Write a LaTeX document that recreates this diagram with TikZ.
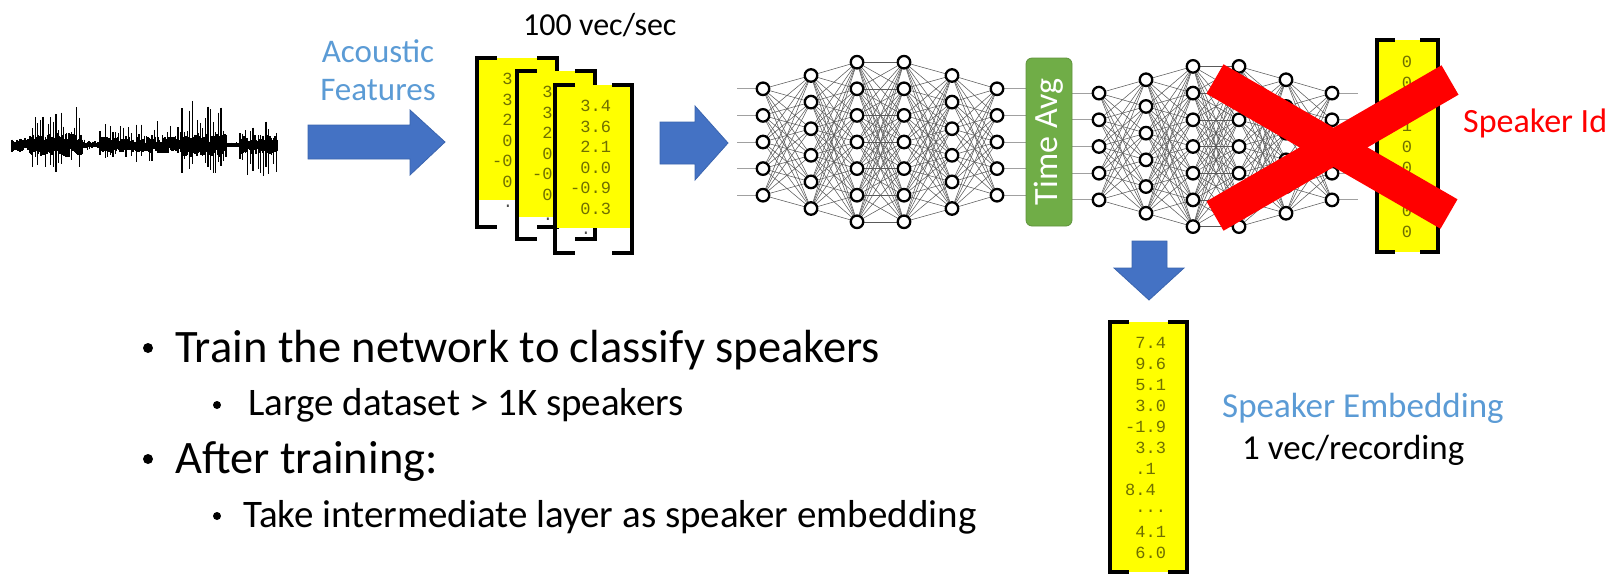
\documentclass[tikz,border=0pt]{standalone}
\usepackage{fontspec}
\setmainfont{Carlito}
\newfontfamily\monofam{Liberation Mono}
\usetikzlibrary{backgrounds}
\definecolor{arrowblue}{HTML}{4472C4}
\definecolor{arrowedge}{HTML}{3A64AE}
\definecolor{lightblue}{HTML}{5B9BD5}
\definecolor{boxgreen}{HTML}{70AD47}
\definecolor{numolive}{HTML}{6F6F00}
\definecolor{vecyellow}{HTML}{FFFF00}
\definecolor{xred}{HTML}{FF0000}
\definecolor{netgray}{HTML}{5A5A5A}
\definecolor{stubgray}{HTML}{A0A0A0}
\newcommand\mydots{...}
\begin{document}
\begin{tikzpicture}[x=1pt,y=-1pt,
  neuron/.style={circle, draw=black, fill=white, line width=2.3pt, minimum size=12.5pt, inner sep=0pt},
  link/.style={draw=netgray, line width=0.55pt},
  stub/.style={draw=stubgray, line width=1pt},
  num/.style={font=\monofam\fontsize{17}{20}\selectfont, text=numolive, inner sep=0pt, anchor=west},
  numc/.style={font=\monofam\fontsize{17}{20}\selectfont, text=numolive, inner sep=0pt},
  bracketline/.style={draw=black, line width=4pt, line join=miter},
  blockarrow/.style={fill=arrowblue, draw=arrowedge, line width=0.8pt},
  txt/.style={inner sep=0pt, anchor=base west},
  xbar/.style={draw=xred, line width=34pt, line cap=butt}
]
\useasboundingbox (0,0) rectangle (1623,574);

% ---------- waveform ----------
\pgfmathsetseed{11}
\foreach \xa/\xb/\up/\dn/\core in {12/30/7/7/6, 30/82/38/28/10, 82/100/8/6/3, 100/182/24/17/7, 182/226/48/30/10, 226/240/3/3/1.5, 240/277/28/32/8}{
  \pgfmathsetmacro\xs{\xa+1.0}
  \foreach \x in {\xa,\xs,...,\xb}{
    \pgfmathsetmacro\u{\core*(0.3+0.9*rnd)}
    \pgfmathsetmacro\d{\core*(0.3+0.9*rnd)}
    \draw[line width=1.1pt] (\x,{145-\u}) -- (\x,{145+\d});
  }
  \pgfmathsetmacro\xt{\xa+2.6}
  \foreach \x in {\xa,\xt,...,\xb}{
    \pgfmathsetmacro\u{\up*(0.2+0.8*rnd^1.3)}
    \pgfmathsetmacro\d{\dn*(0.2+0.8*rnd^1.3)}
    \draw[line width=1.2pt] (\x,{145-\u}) -- (\x,{145+\d});
  }
}
\fill (12,143) rectangle (277,147);

% ---------- labels top-left ----------
\node[font=\fontsize{33}{38}\selectfont, text=lightblue, align=center, inner sep=0pt] (acf) at (378,70) {Acoustic\\Features};
\node[txt, font=\fontsize{32}{38}\selectfont] (rate) at (523,35) {100 vec/sec};

% ---------- arrow 1 ----------
\path[blockarrow] (308,125) -- (410,125) -- (410,110) -- (445,142) -- (410,175) -- (410,159) -- (308,159) -- cycle;

% ---------- feature matrices ----------
\foreach \m/\L/\T/\R/\B/\Yb in {1/477/58/557/227/200, 2/517/71/595/239/217, 3/555/85/632/253/228}{
  \fill[vecyellow] (\L,\T) rectangle (\R,\Yb);
  \foreach \t [count=\i] in {{\hphantom{-}3.4},{\hphantom{-}3.6},{\hphantom{-}2.1},{\hphantom{-}0.0},{-0.9},{\hphantom{-}0.3}}{
    \node[num] (f\m-\i) at ({\L+15},{\T+21+20.5*(\i-1)}) {\t};
  }
  \node[numc, text=black!70] (fdot\m) at ({\L+31},{\T+148}) {.};
  \draw[bracketline] ({\L+20},\T) -- (\L,\T) -- (\L,\B) -- ({\L+20},\B);
  \draw[bracketline] ({\R-20},\T) -- (\R,\T) -- (\R,\B) -- ({\R-20},\B);
}

% ---------- arrow 2 ----------
\path[blockarrow] (660,122) -- (695,122) -- (695,106) -- (728,143) -- (695,180) -- (695,164) -- (660,164) -- cycle;

% ---------- network 1 ----------
\foreach \l/\x/\n in {1/763/5,2/811/6,3/857/7,4/904/7,5/952/6,6/997/5}{
  \foreach \i in {1,...,\n}{
    \node[neuron] (a\l-\i) at (\x,{142+(\i-(\n+1)/2)*26.6}) {};
  }
}
\foreach \i in {1,...,5}{
  \coordinate (ain-\i) at (737,{142+(\i-3)*26.6});
  \coordinate (aout-\i) at (1026,{142+(\i-3)*26.6});
}
% ---------- network 2 ----------
\foreach \l/\x/\n in {1/1099/5,2/1146/6,3/1193/7,4/1239/7,5/1286/6,6/1332/5}{
  \foreach \i in {1,...,\n}{
    \node[neuron] (b\l-\i) at (\x,{146.5+(\i-(\n+1)/2)*26.7}) {};
  }
}
\foreach \i in {1,...,5}{
  \coordinate (bin-\i) at (1072,{146.5+(\i-3)*26.7});
  \coordinate (bout-\i) at (1358,{146.5+(\i-3)*26.7});
}
\begin{scope}[on background layer]
  \foreach \l/\n/\m in {1/5/6,2/6/7,3/7/7,4/7/6,5/6/5}{
    \pgfmathtruncatemacro\k{\l+1}
    \foreach \i in {1,...,\n}{
      \foreach \j in {1,...,\m}{
        \draw[link] (a\l-\i) -- (a\k-\j);
        \draw[link] (b\l-\i) -- (b\k-\j);
      }
    }
  }
  \foreach \i in {1,...,5}{
    \draw[stub] (ain-\i) -- (a1-\i);
    \draw[stub] (a6-\i) -- (aout-\i);
    \draw[stub] (bin-\i) -- (b1-\i);
    \draw[stub] (b6-\i) -- (bout-\i);
  }
\end{scope}

% ---------- time average ----------
\node[rotate=90, fill=boxgreen, draw=boxgreen!85!black, line width=0.8pt, rounded corners=6pt,
      minimum width=168pt, minimum height=46pt, inner sep=0pt, text=white,
      font=\fontsize{34}{40}\selectfont] (tavg) at (1049,142) {Time Avg};

% ---------- speaker id vector ----------
\fill[vecyellow] (1377,40) rectangle (1438,252);
\foreach \t [count=\i] in {0,0,0,1,0,0,0,0,0}{
  \node[numc] (sid-\i) at (1407,{61.7+21.25*(\i-1)}) {\t};
}
\draw[bracketline] (1395,40) -- (1377,40) -- (1377,252) -- (1395,252);
\draw[bracketline] (1420,40) -- (1438,40) -- (1438,252) -- (1420,252);

% ---------- red X ----------
\coordinate (xa1) at (1215,79);
\coordinate (xa2) at (1449,214);
\coordinate (xb1) at (1215,216);
\coordinate (xb2) at (1450,80);
\draw[xbar] (xa1) -- (xa2);
\draw[xbar] (xb1) -- (xb2);
\node[txt, text=xred, font=\fontsize{34}{40}\selectfont] (spkid) at (1463,132) {Speaker Id};

% ---------- down arrow ----------
\path[blockarrow] (1132,241) -- (1167,241) -- (1167,268) -- (1184,268) -- (1149,300) -- (1114,268) -- (1132,268) -- cycle;

% ---------- embedding vector ----------
\fill[vecyellow] (1110,322) rectangle (1187,572);
\foreach \t [count=\i] in {{\hphantom{-}7.4},{\hphantom{-}9.6},{\hphantom{-}5.1},{\hphantom{-}3.0},{-1.9},{\hphantom{-}3.3},{\hphantom{-}.1},{8.4},{\hphantom{-}\mydots},{\hphantom{-}4.1},{\hphantom{-}6.0}}{
  \node[num] (emb-\i) at (1125,{343+21*(\i-1)}) {\t};
}
\draw[bracketline] (1129,322) -- (1110,322) -- (1110,572) -- (1129,572);
\draw[bracketline] (1168,322) -- (1187,322) -- (1187,572) -- (1168,572);

\node[txt, text=lightblue, font=\fontsize{35}{40}\selectfont] (embl) at (1222,417) {Speaker Embedding};
\node[txt, font=\fontsize{35}{40}\selectfont] (embr) at (1242,459) {1 vec/recording};

% ---------- bullets ----------
\fill (148,348) circle[radius=5];
\node[txt, font=\fontsize{46.5}{54}\selectfont] (t1) at (175,362) {Train the network to classify speakers};
\fill (217,405) circle[radius=4];
\node[txt, font=\fontsize{39}{46}\selectfont] (t2) at (248,415) {Large dataset > 1K speakers};
\fill (148,459) circle[radius=5];
\node[txt, font=\fontsize{46.5}{54}\selectfont] (t3) at (175,473) {After training:};
\fill (217,516) circle[radius=4];
\node[txt, font=\fontsize{39}{46}\selectfont] (t4) at (243,527) {Take intermediate layer as speaker embedding};
\end{tikzpicture}
\end{document}
